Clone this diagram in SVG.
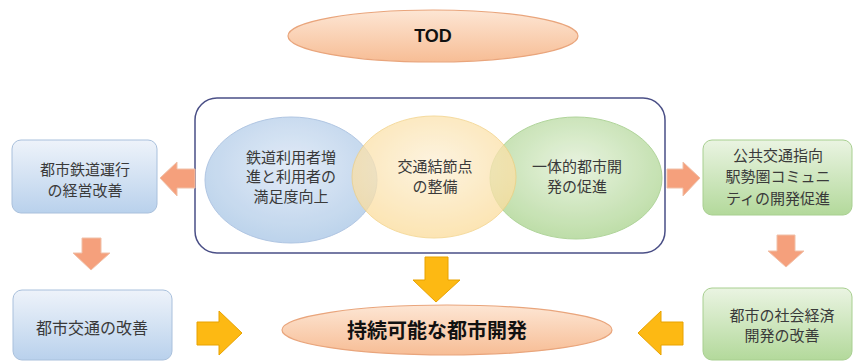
<svg xmlns="http://www.w3.org/2000/svg" width="853" height="362" viewBox="0 0 853 362">
<defs>
<linearGradient id="gPeach" x1="0" y1="0" x2="0" y2="1"><stop offset="0" stop-color="#fde6d4"/><stop offset="1" stop-color="#f7bd95"/></linearGradient>
<linearGradient id="gBlue" x1="0" y1="0" x2="0" y2="1"><stop offset="0" stop-color="#eef3fa"/><stop offset="1" stop-color="#b9d1ec"/></linearGradient>
<linearGradient id="gGreen" x1="0" y1="0" x2="0" y2="1"><stop offset="0" stop-color="#eaf4e2"/><stop offset="1" stop-color="#b3d99b"/></linearGradient>
<radialGradient id="rBlue" cx="0.5" cy="0.4" r="0.6"><stop offset="0" stop-color="#dfe9f6"/><stop offset="1" stop-color="#b6cfea"/></radialGradient>
<radialGradient id="rYellow" cx="0.5" cy="0.4" r="0.6"><stop offset="0" stop-color="#fdf0d6"/><stop offset="1" stop-color="#fbdc9a"/></radialGradient>
<radialGradient id="rGreen" cx="0.5" cy="0.4" r="0.6"><stop offset="0" stop-color="#e6f2dc"/><stop offset="1" stop-color="#b7da9f"/></radialGradient>
<style>
.t{font-family:"Noto Sans CJK JP","Noto Sans",sans-serif;fill:#3a3a3a;text-anchor:middle}
.s16{font-size:15px}
.s15{font-size:15px}
.b{font-weight:bold;fill:#111}
.oarr{fill:#f5a07c;stroke:#f0c0a8;stroke-width:1}
.yarr{fill:#fdb913;stroke:#e8a200;stroke-width:1}
</style>
</defs>

<g id="tod">
<ellipse cx="433" cy="36" rx="145" ry="26" fill="url(#gPeach)" stroke="#e9a57c" stroke-width="1.2"/>
<text class="t b" x="433" y="42" font-size="18" style="font-family:'Liberation Sans',Arial,sans-serif">TOD</text>
</g>

<g id="core">
<rect x="195" y="98" width="470" height="155" rx="22" fill="#fff" stroke="#4a4f86" stroke-width="1.5"/>
</g>

<g id="e1">
<ellipse cx="291" cy="180" rx="86" ry="63" fill="url(#rBlue)" stroke="#a8c0e0" stroke-width="1" opacity="0.9"/>
</g>
<g id="e3">
<ellipse cx="576" cy="178" rx="86" ry="61" fill="url(#rGreen)" stroke="#a8d090" stroke-width="1" opacity="0.9"/>
</g>
<g id="e2">
<ellipse cx="434" cy="177" rx="82" ry="61" fill="url(#rYellow)" stroke="#f2cf7e" stroke-width="1" opacity="0.75"/>
</g>
<g id="e-labels">
<text class="t s15" x="291" y="163">鉄道利用者増</text>
<text class="t s15" x="291" y="182">進と利用者の</text>
<text class="t s15" x="291" y="202">満足度向上</text>
<text class="t s15" x="435" y="172">交通結節点</text>
<text class="t s15" x="435" y="192">の整備</text>
<text class="t s15" x="577" y="172">一体的都市開</text>
<text class="t s15" x="577" y="192">発の促進</text>
</g>

<g id="box-tl">
<rect x="12" y="140" width="145" height="73" rx="9" fill="url(#gBlue)" stroke="#a9c0dc" stroke-width="1"/>
<text class="t s16" x="85" y="175">都市鉄道運行</text>
<text class="t s16" x="85" y="196">の経営改善</text>
</g>

<g id="box-tr">
<rect x="703" y="140" width="149" height="75" rx="9" fill="url(#gGreen)" stroke="#a8cf90" stroke-width="1"/>
<text class="t s16" x="778" y="161">公共交通指向</text>
<text class="t s16" x="778" y="182">駅勢圏コミュニ</text>
<text class="t s16" x="778" y="204">ティの開発促進</text>
</g>

<g id="box-bl">
<rect x="13" y="290" width="159" height="70" rx="9" fill="url(#gBlue)" stroke="#a9c0dc" stroke-width="1"/>
<text class="t" x="92" y="334" font-size="16">都市交通の改善</text>
</g>

<g id="box-br">
<rect x="703" y="288" width="149" height="72" rx="9" fill="url(#gGreen)" stroke="#a8cf90" stroke-width="1"/>
<text class="t s16" x="782" y="321">都市の社会経済</text>
<text class="t s16" x="782" y="341">開発の改善</text>
</g>

<g id="goal">
<ellipse cx="447" cy="330" rx="165" ry="25" fill="url(#gPeach)" stroke="#e9a57c" stroke-width="1.2"/>
<text class="t b" x="437" y="338" font-size="20">持続可能な都市開発</text>
</g>

<g id="connectors">
<polygon class="oarr" points="160,178 177,162 177,169 195,169 195,188 177,188 177,196"/>
<polygon class="oarr" points="700,178 683,162 683,169 667,169 667,188 683,188 683,196"/>
<polygon class="oarr" points="91,270 73,253 82,253 82,238 101,238 101,253 110,253"/>
<polygon class="oarr" points="786,267 768,251 777,251 777,235 795,235 795,251 804,251"/>
<polygon class="yarr" points="436,302 413,280 425,280 425,257 448,257 448,280 460,280"/>
<polygon class="yarr" points="242,333 219,311 219,322 197,322 197,345 219,345 219,355"/>
<polygon class="yarr" points="638,333 661,311 661,322 683,322 683,345 661,345 661,355"/>
</g>
</svg>
